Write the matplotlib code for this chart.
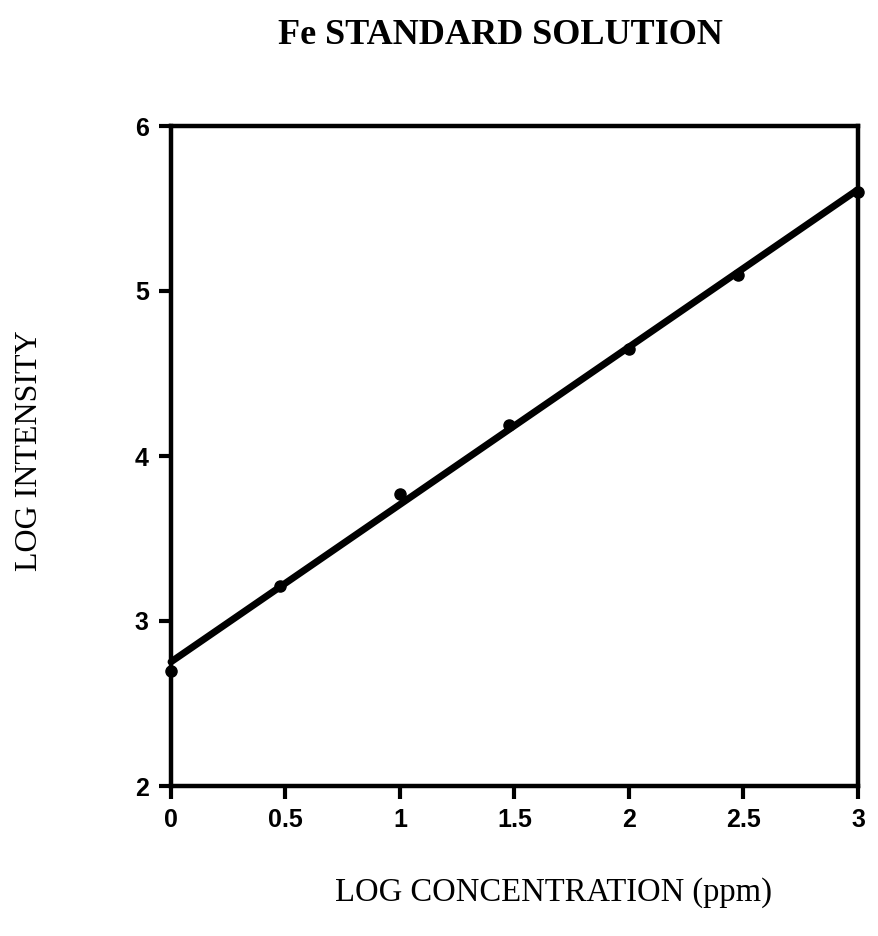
import numpy as np
import matplotlib.pyplot as plt

# Calibration data: log10 of standard concentrations vs. log of emission intensity
concentration_ppm = [1, 3, 10, 30, 100, 300, 1000]
log_conc = np.log10(concentration_ppm)
log_intensity = [2.70, 3.21, 3.77, 4.19, 4.65, 5.10, 5.60]

x_ticks = [0, 0.5, 1, 1.5, 2, 2.5, 3]
x_tick_labels = ["0", "0.5", "1", "1.5", "2", "2.5", "3"]
y_ticks = [2, 3, 4, 5, 6]
y_tick_labels = ["2", "3", "4", "5", "6"]

fig = plt.figure(figsize=(8.79, 9.36), dpi=100)
W, H = 879, 936
left, right, top, bottom = 171, 858, 126, 786
ax = fig.add_axes([left / W, 1 - bottom / H, (right - left) / W, (bottom - top) / H])

# least-squares calibration line
slope, intercept = np.polyfit(log_conc, log_intensity, 1)
xs = np.array([0.0, 3.0])
ax.plot(xs, slope * xs + intercept, color="black", lw=5, solid_capstyle="round",
        clip_on=False, zorder=3)
ax.plot(log_conc, log_intensity, "o", color="black", ms=8, clip_on=False, zorder=4)

ax.set_xlim(0, 3)
ax.set_ylim(2, 6)
for s in ax.spines.values():
    s.set_linewidth(3.2)
ax.set_xticks(x_ticks)
ax.set_xticklabels(x_tick_labels)
ax.set_yticks(y_ticks)
ax.set_yticklabels(y_tick_labels)
ax.tick_params(direction="out", length=9, width=3, pad=7,
               labelsize=18)
for lab in ax.get_xticklabels() + ax.get_yticklabels():
    lab.set_fontweight("bold")
    lab.set_family("Liberation Sans")

fig.text(500 / W, 1 - 36 / H, "Fe STANDARD SOLUTION", ha="center", va="center",
         family="Liberation Serif", fontweight="bold", fontsize=26)
fig.text(554 / W, 1 - 893 / H, "LOG CONCENTRATION (ppm)", ha="center", va="center",
         family="Liberation Serif", fontsize=23.5)
fig.text(30 / W, 1 - 451 / H, "LOG INTENSITY", ha="center", va="center", rotation=90,
         family="Liberation Serif", fontsize=23)

fig.savefig("out.png", dpi=100, facecolor="white")
